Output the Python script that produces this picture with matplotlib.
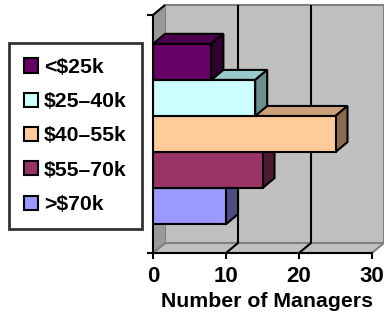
# 3D-style horizontal bar chart: salary ranges of managers
import numpy as np
import matplotlib.pyplot as plt
from matplotlib.patches import Polygon, Patch

# Data
categories = ['<$25k', '$25–40k', '$40–55k', '$55–70k', '>$70k']
managers = [8, 14, 25, 15, 10]
x_ticks = [0, 10, 20, 30]

# Colours (front, top, side)
front_colors = ['#660066', '#CCFFFF', '#FFCC99', '#993366', '#9999FF']
top_colors = ['#4D004D', '#99CACA', '#CCA078', '#73264D', '#7373C0']
side_colors = ['#330033', '#6B8F8F', '#8C6B4D', '#4D1A33', '#4D4D80']

W, H = 384, 315
dx, dy = 12, 10  # depth offset in pixels

plt.rcParams['font.family'] = ['Liberation Sans', 'DejaVu Sans']
plt.rcParams['font.weight'] = 'bold'

fig = plt.figure(figsize=(W / 100, H / 100), dpi=100)
ax = fig.add_axes([153 / W, 1 - 253 / H, 219 / W, 238 / H])
ax.set_xlim(0, 30)
ax.set_ylim(5.3, -1.3)
ax.patch.set_visible(False)

x0, x1 = ax.get_xlim()
yb, yt = ax.get_ylim()


def face(pts, fc, ec='black', lw=1.5, z=2):
    # pts: (x, y, d), d=0 front plane, d=1 back plane
    xy = [ax.transData.transform((x, y)) + np.array([dx, dy]) * d for x, y, d in pts]
    ax.add_patch(Polygon(xy, closed=True, transform=None, fc=fc, ec=ec, lw=lw,
                         zorder=z, clip_on=False, joinstyle='miter'))


def line(pts, color='black', lw=1.5, z=1.5):
    xy = np.array([ax.transData.transform((x, y)) + np.array([dx, dy]) * d for x, y, d in pts])
    ax.plot(xy[:, 0], xy[:, 1], transform=None, color=color, lw=lw, zorder=z,
            clip_on=False, solid_capstyle='butt')


# Walls and floor
face([(x0, yb, 1), (x1, yb, 1), (x1, yt, 1), (x0, yt, 1)], '#C0C0C0', ec='#808080', lw=1.5, z=0.5)
face([(x0, yb, 0), (x1, yb, 0), (x1, yb, 1), (x0, yb, 1)], '#C0C0C0', ec='#808080', lw=1.5, z=0.6)
face([(x0, yb, 0), (x0, yt, 0), (x0, yt, 1), (x0, yb, 1)], '#999999', ec='none', lw=0, z=0.7)
line([(x0, yt, 0), (x0, yt, 1)], color='black', z=0.8)
line([(x0, yb, 0), (x0, yb, 1)], color='#808080', z=0.8)

# Gridlines on back wall and floor
for t in x_ticks[1:-1]:
    line([(t, yt, 1), (t, yb, 1), (t, yb, 0)], color='black', lw=1.5, z=1)

# Bars, drawn bottom to top so upper fronts cover lower tops
ypos = np.arange(len(categories))
for i in reversed(range(len(categories))):
    v = managers[i]
    y_top, y_bot = ypos[i] - 0.5, ypos[i] + 0.5
    z = 2 + (len(categories) - i) * 0.1
    face([(0, y_top, 0), (v, y_top, 0), (v, y_top, 1), (0, y_top, 1)], top_colors[i], z=z)
    face([(v, y_bot, 0), (v, y_top, 0), (v, y_top, 1), (v, y_bot, 1)], side_colors[i], z=z)
    ax.barh(ypos[i], v, height=1, color=front_colors[i], edgecolor='black',
            linewidth=1.5, zorder=z + 0.05)

# Axes styling
for s in ['top', 'right']:
    ax.spines[s].set_visible(False)
for s in ['left', 'bottom']:
    ax.spines[s].set_linewidth(1.5)
    ax.spines[s].set_zorder(5)
ax.set_xticks(x_ticks)
ax.set_xticklabels([str(t) for t in x_ticks], fontsize=16, fontweight='bold')
ax.tick_params(axis='x', direction='out', length=4, width=1.5, pad=5)
ax.set_yticks([yt, yb])
ax.set_yticklabels([])
ax.tick_params(axis='y', direction='out', length=4, width=1.5)
ax.set_xlabel('Number of Managers', fontsize=15.3, fontweight='bold')
ax.xaxis.set_label_coords(0.52, -0.165)

# Legend
handles = [Patch(facecolor=c, edgecolor='black', linewidth=1.5) for c in front_colors]
leg = fig.legend(handles, categories, loc='upper left', bbox_to_anchor=(9 / W, 1 - 43 / H),
                 prop={'size': 15.3, 'weight': 'bold'}, frameon=True, fancybox=False,
                 handlelength=0.65, handleheight=0.65, handletextpad=0.3,
                 labelspacing=0.72, borderpad=0.7, borderaxespad=0)
leg.get_frame().set_edgecolor('black')
leg.get_frame().set_linewidth(2)

fig.savefig('out.png', dpi=100)
